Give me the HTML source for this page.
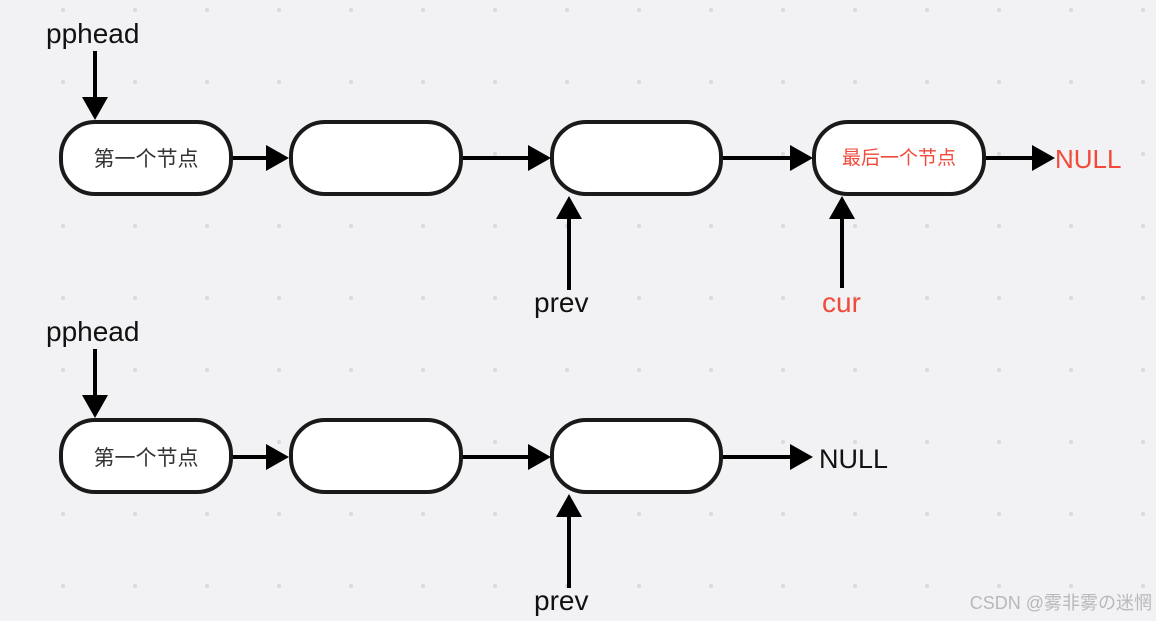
<!DOCTYPE html>
<html><head><meta charset="utf-8"><style>
body{margin:0;background:#f2f2f4;}
svg{display:block}
text{font-family:"Liberation Sans","Noto Sans CJK SC",sans-serif}
</style></head><body>
<svg width="1156" height="621" viewBox="0 0 1156 621" xmlns="http://www.w3.org/2000/svg">
<defs>
<pattern id="dots" x="0" y="0" width="72" height="72" patternUnits="userSpaceOnUse" patternTransform="translate(63,10)">
<circle cx="0" cy="0" r="2" fill="#d8d8dc"/><circle cx="72" cy="0" r="2" fill="#d8d8dc"/><circle cx="0" cy="72" r="2" fill="#d8d8dc"/><circle cx="72" cy="72" r="2" fill="#d8d8dc"/>
</pattern>
</defs>
<rect width="1156" height="621" fill="#f2f2f4"/>
<rect width="1156" height="621" fill="url(#dots)"/>
<g stroke="#1a1a1a" stroke-width="4" fill="#fff">
<rect x="61" y="122" width="170" height="72" rx="34"/>
<rect x="291" y="122" width="170" height="72" rx="34"/>
<rect x="552" y="122" width="169" height="72" rx="34"/>
<rect x="814" y="122" width="170" height="72" rx="34"/>
<rect x="61" y="420" width="170" height="72" rx="34"/>
<rect x="291" y="420" width="170" height="72" rx="34"/>
<rect x="552" y="420" width="169" height="72" rx="34"/>
</g>
<g stroke="#000" stroke-width="4">
<line x1="95" y1="51" x2="95" y2="100"/>
<line x1="233" y1="158" x2="268" y2="158"/>
<line x1="463" y1="158" x2="530" y2="158"/>
<line x1="723" y1="158" x2="792" y2="158"/>
<line x1="986" y1="158" x2="1034" y2="158"/>
<line x1="569" y1="290" x2="569" y2="218"/>
<line x1="842" y1="288" x2="842" y2="218"/>
<line x1="95" y1="349" x2="95" y2="398"/>
<line x1="233" y1="457" x2="268" y2="457"/>
<line x1="463" y1="457" x2="530" y2="457"/>
<line x1="723" y1="457" x2="792" y2="457"/>
<line x1="569" y1="588" x2="569" y2="516"/>
</g>
<g fill="#000">
<polygon points="82,97 108,97 95,120"/>
<polygon points="266,145 266,171 289,158"/>
<polygon points="528,145 528,171 551,158"/>
<polygon points="790,145 790,171 813,158"/>
<polygon points="1032,145 1032,171 1055,158"/>
<polygon points="556,219 582,219 569,196"/>
<polygon points="829,219 855,219 842,196"/>
<polygon points="82,395 108,395 95,418"/>
<polygon points="266,444 266,470 289,457"/>
<polygon points="528,444 528,470 551,457"/>
<polygon points="790,444 790,470 813,457"/>
<polygon points="556,517 582,517 569,494"/>
</g>
<g font-size="28" fill="#111">
<text x="46" y="43">pphead</text>
<text x="46" y="341">pphead</text>
<text x="534" y="312">prev</text>
<text x="534" y="610">prev</text>
<text x="819" y="468" font-size="27">NULL</text>
</g>
<text x="822" y="312" font-size="28" fill="#f24a3a">cur</text>
<text x="1055" y="168" font-size="26" fill="#f24a3a">NULL</text>
<g font-size="21" fill="#333" text-anchor="middle">
<text x="146" y="166">第一个节点</text>
<text x="146" y="465">第一个节点</text>
</g>
<text x="899" y="164" font-size="19" fill="#f24a3a" text-anchor="middle">最后一个节点</text>
<text x="1152" y="609" font-size="18" fill="#b8b8bc" text-anchor="end">CSDN @雾非雾の迷惘</text>
</svg>
</body></html>
